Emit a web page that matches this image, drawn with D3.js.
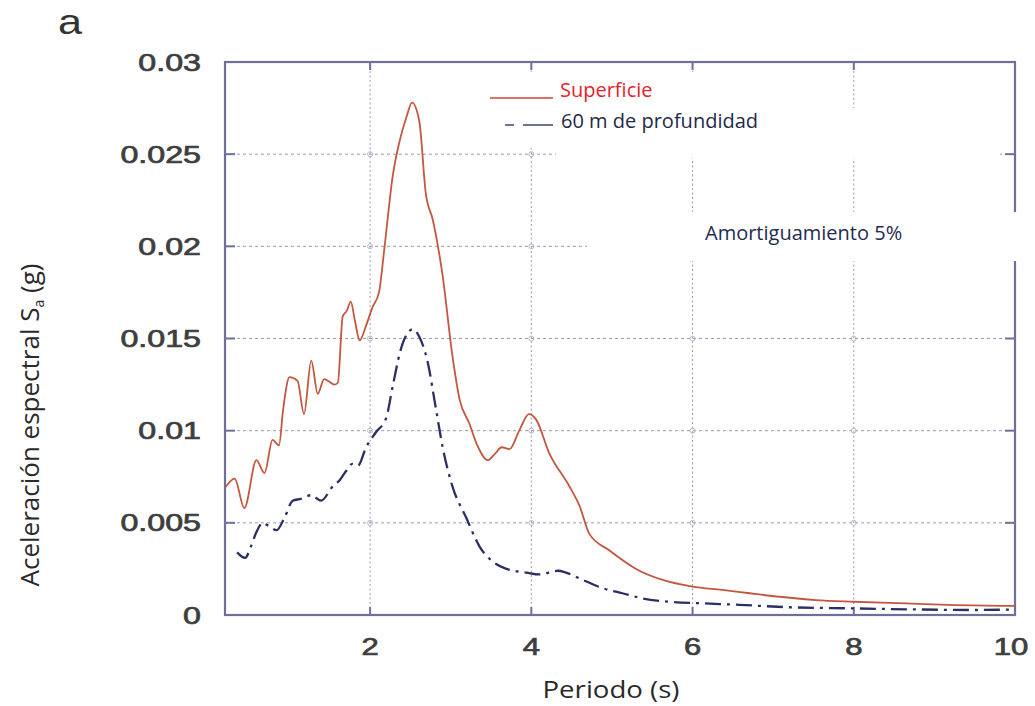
<!DOCTYPE html>
<html>
<head>
<meta charset="utf-8">
<script src="https://cdn.jsdelivr.net/npm/d3@7"></script>
<style>
  html, body { margin: 0; padding: 0; background: #fff; }
  svg { display: block; }
</style>
</head>
<body>
<svg id="chart" width="1035" height="706"></svg>
<script>
// Response spectra (5% damping): surface vs. 60 m depth
const periodSuperficie = [0.20, 0.32, 0.44, 0.59, 0.69, 0.79, 0.87, 0.92, 1.00, 1.10, 1.18, 1.27, 1.35, 1.43, 1.56,
  1.60, 1.66, 1.71, 1.76, 1.81, 1.87, 1.95, 2.03, 2.11, 2.18, 2.28, 2.36, 2.45, 2.52, 2.61, 2.69, 2.78, 2.90, 3.02,
  3.11, 3.23, 3.33, 3.46, 3.56, 3.63, 3.73, 3.85, 3.97, 4.06, 4.22, 4.47, 4.60, 4.72, 4.97, 5.30, 5.63, 6.00, 6.37,
  6.71, 7.08, 7.53, 7.99, 8.65, 9.27, 10.0];
const saSuperficie = [0.0069, 0.0074, 0.0058, 0.0084, 0.0077, 0.0095, 0.0092, 0.0111, 0.0129, 0.0127, 0.0109, 0.0138,
  0.0120, 0.0128, 0.0125, 0.0126, 0.0162, 0.0165, 0.0170, 0.0160, 0.0149, 0.0157, 0.0167, 0.0175, 0.0200, 0.0238,
  0.0256, 0.0270, 0.0278, 0.0268, 0.0229, 0.0214, 0.0184, 0.0141, 0.0117, 0.0104, 0.0092, 0.0084, 0.0088, 0.0091,
  0.0090, 0.0100, 0.0109, 0.0106, 0.0088, 0.0070, 0.0059, 0.0044, 0.0035, 0.0025, 0.0019, 0.00154, 0.00136,
  0.00118, 0.00099, 0.00081, 0.00072, 0.00063, 0.00054, 0.00049];

const period60m = [0.35, 0.45, 0.52, 0.59, 0.67, 0.75, 0.84, 0.94, 1.04, 1.14, 1.27, 1.39, 1.54, 1.62, 1.70, 1.78,
  1.85, 1.95, 2.07, 2.20, 2.28, 2.38, 2.53, 2.61, 2.71, 2.82, 2.90, 3.02, 3.19, 3.36, 3.52, 3.69, 3.94, 4.10, 4.33,
  4.43, 4.64, 4.89, 5.13, 5.38, 5.71, 6.13, 6.58, 7.20, 7.99, 8.65, 9.48, 10.0];
const sa60m = [0.0034, 0.0031, 0.0037, 0.0045, 0.0050, 0.0048, 0.0046, 0.0053, 0.0062, 0.0063, 0.0065, 0.0062,
  0.0070, 0.0073, 0.0078, 0.0082, 0.0081, 0.0091, 0.0099, 0.0107, 0.0124, 0.0144, 0.0155, 0.0151, 0.0138, 0.0111,
  0.0091, 0.0070, 0.0053, 0.0037, 0.0029, 0.0025, 0.0023, 0.0022, 0.0024, 0.0023, 0.0019, 0.00145, 0.00118,
  0.0009, 0.00072, 0.00063, 0.00055, 0.00042, 0.00036, 0.00031, 0.00027, 0.00030];

const xTicks = [2, 4, 6, 8, 10];
const xTickLabels = ["2", "4", "6", "8", "10"];
const yTicks = [0, 0.005, 0.01, 0.015, 0.02, 0.025, 0.03];
const yTickLabels = ["0", "0.005", "0.01", "0.015", "0.02", "0.025", "0.03"];
const legendLabels = ["Superficie", "60 m de profundidad"];
const annotationText = "Amortiguamiento 5%";
const xTitle = "Periodo (s)";
const panelLetter = "a";

const svg = d3.select("#chart");
const plotLeft = 225, plotRight = 1015, plotTop = 62, plotBottom = 615;

const x = d3.scaleLinear().domain([0.2, 10]).range([plotLeft, plotRight]);
const y = d3.scaleLinear().domain([0, 0.03]).range([plotBottom, plotTop]);

const frameColor = "#6f6f9c";
const gridColor = "#9c9cb2";
const redColor = "#c4573f";
const blueColor = "#2c2f63";

// grid
const grid = svg.append("g");
grid.selectAll("line.gx").data(xTicks.filter(d => d < 10)).join("line")
  .attr("x1", d => x(d)).attr("x2", d => x(d)).attr("y1", plotTop).attr("y2", plotBottom)
  .attr("stroke", gridColor).attr("stroke-width", 1).attr("stroke-dasharray", "2,2.5");
grid.selectAll("line.gy").data(yTicks.filter(d => d > 0 && d < 0.03)).join("line")
  .attr("x1", plotLeft).attr("x2", plotRight).attr("y1", d => y(d)).attr("y2", d => y(d))
  .attr("stroke", gridColor).attr("stroke-width", 1).attr("stroke-dasharray", "3,3");
const cross = [];
xTicks.filter(d => d < 10).forEach(a => yTicks.filter(b => b > 0 && b < 0.03).forEach(b => cross.push([a, b])));
grid.selectAll("circle").data(cross).join("circle")
  .attr("cx", d => x(d[0])).attr("cy", d => y(d[1])).attr("r", 2.5)
  .attr("fill", "none").attr("stroke", "#b8b8c8").attr("stroke-width", 1);

// white label panels over the grid
svg.append("rect").attr("x", 485).attr("y", 72).attr("width", 360).attr("height", 76).attr("fill", "#fff");
svg.append("rect").attr("x", 556).attr("y", 108).attr("width", 444).attr("height", 50).attr("fill", "#fff");

// frame and ticks
svg.append("rect").attr("x", plotLeft).attr("y", plotTop).attr("width", plotRight - plotLeft).attr("height", plotBottom - plotTop)
  .attr("fill", "none").attr("stroke", frameColor).attr("stroke-width", 2.2);
const ticks = svg.append("g").attr("stroke", frameColor).attr("stroke-width", 2);
xTicks.filter(d => d < 10).forEach(d => {
  ticks.append("line").attr("x1", x(d)).attr("x2", x(d)).attr("y1", plotBottom).attr("y2", plotBottom - 8);
  ticks.append("line").attr("x1", x(d)).attr("x2", x(d)).attr("y1", plotTop).attr("y2", plotTop + 8);
});
yTicks.filter(d => d > 0 && d < 0.03).forEach(d => {
  ticks.append("line").attr("x1", plotLeft).attr("x2", plotLeft + 10).attr("y1", y(d)).attr("y2", y(d));
  ticks.append("line").attr("x1", plotRight).attr("x2", plotRight - 10).attr("y1", y(d)).attr("y2", y(d));
});

// curves
const line = d3.line().x(d => x(d[0])).y(d => y(d[1])).curve(d3.curveMonotoneX);
svg.append("path").datum(d3.zip(periodSuperficie, saSuperficie))
  .attr("d", line).attr("fill", "none").attr("stroke", redColor).attr("stroke-width", 1.8)
  .attr("stroke-linejoin", "round");
svg.append("path").datum(d3.zip(period60m, sa60m))
  .attr("d", line).attr("fill", "none").attr("stroke", blueColor).attr("stroke-width", 2.3)
  .attr("stroke-dasharray", "16,6,3,6");

// annotation panel (covers grid and right border)
svg.append("rect").attr("x", 587).attr("y", 212).attr("width", 440).attr("height", 49).attr("fill", "#fff");

// tick labels
const tickFont = "'Liberation Sans', Arial, sans-serif";
const tickColor = "#3e3e3e";
yTicks.forEach((d, i) => {
  svg.append("text").attr("transform", `translate(201,${y(d) + 8.5}) scale(1.4,1)`)
    .attr("text-anchor", "end").attr("font-family", tickFont).attr("font-size", 23)
    .attr("fill", tickColor).attr("stroke", tickColor).attr("stroke-width", 0.7).text(yTickLabels[i]);
});
xTicks.forEach((d, i) => {
  svg.append("text").attr("transform", `translate(${x(d) + (d === 10 ? -4 : 0)},655) scale(1.35,1)`)
    .attr("text-anchor", "middle").attr("font-family", tickFont).attr("font-size", 23)
    .attr("fill", tickColor).attr("stroke", tickColor).attr("stroke-width", 0.7).text(xTickLabels[i]);
});

// axis titles
const titleFont = "'Open Sans', 'Noto Sans', sans-serif";
svg.append("text").attr("transform", "translate(611,698) scale(1.2,1)")
  .attr("text-anchor", "middle").attr("font-family", titleFont).attr("font-size", 23)
  .attr("fill", "#2a2a2a").text(xTitle);
const yTitle = svg.append("text").attr("transform", "translate(39,425) rotate(-90)")
  .attr("text-anchor", "middle").attr("font-family", titleFont).attr("font-size", 26)
  .attr("fill", "#2a2a2a");
yTitle.append("tspan").text("Aceleración espectral S");
yTitle.append("tspan").attr("font-size", 14).attr("dy", 5).text("a");
yTitle.append("tspan").attr("dy", -5).text(" (g)");

// legend
svg.append("line").attr("x1", 490).attr("x2", 553).attr("y1", 98).attr("y2", 98)
  .attr("stroke", "#e07068").attr("stroke-width", 2);
svg.append("line").attr("x1", 505).attr("x2", 553).attr("y1", 125).attr("y2", 125)
  .attr("stroke", "#6b7393").attr("stroke-width", 2).attr("stroke-dasharray", "9,9,30");
svg.append("text").attr("x", 560).attr("y", 97).attr("font-family", titleFont).attr("font-size", 20)
  .attr("fill", "#e3242b").text(legendLabels[0]);
svg.append("text").attr("x", 561).attr("y", 128).attr("font-family", titleFont).attr("font-size", 20)
  .attr("fill", "#1f2a47").text(legendLabels[1]);
svg.append("text").attr("x", 705).attr("y", 240).attr("font-family", titleFont).attr("font-size", 20)
  .attr("fill", "#1f2d4f").text(annotationText);

// panel letter
svg.append("text").attr("transform", "translate(58,34) scale(1.2,1)")
  .attr("font-family", tickFont).attr("font-size", 36).attr("fill", "#333").text(panelLetter);
</script>
</body>
</html>
